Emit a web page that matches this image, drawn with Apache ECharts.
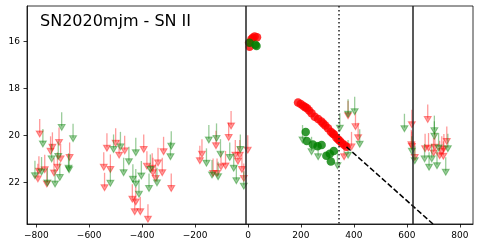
<!DOCTYPE html>
<html>
<head>
<meta charset="utf-8">
<script src="https://cdn.jsdelivr.net/npm/echarts@6/dist/echarts.min.js"></script>
<style>
html,body{margin:0;padding:0;background:#fff;}
#chart{width:480px;height:248px;}
</style>
</head>
<body>
<div id="chart"></div>
<script>
// 观测数据 [天数, 星等]
var rDet = [[4,16.06],[6,16.23],[13,15.91],[18,15.85],[25,15.80],[34,15.83],
	[189,18.60],[199,18.67],[208,18.74],[216,18.80],[223,18.85],[231,18.94],[240,19.06],[252,19.21],
	[265,19.31],[277,19.41],[284,19.50],[292,19.58],[302,19.70],[313,19.85],[320,19.92],[325,19.96],
	[334,20.10],[341,20.18],[347,20.24],[355,20.34],[364,20.41],[372,20.49]];
var gDet = [[6,16.06],[28,16.15],[32,16.20],
	[218,19.86],[222,20.24],[245,20.39],[263,20.46],[278,20.41],[296,20.87],[309,20.78],[313,21.11],[324,20.67]];
// 上限
var rLim = [[-787,19.94],[-714,20.30],[-746,20.68],[-739,20.51],[-708,21.00],[-674,20.94],[-790,21.53],
	[-768,21.46],[-794,21.85],[-760,22.07],[-733,21.60],[-720,21.36],
	[-533,20.55],[-500,20.34],[-487,20.84],[-466,20.66],[-545,21.36],[-520,21.45],[-542,22.23],[-437,22.72],
	[-428,23.25],[-407,23.25],[-378,23.57],[-382,21.31],[-362,21.40],[-359,21.59],[-349,21.83],[-324,21.59],
	[-319,20.70],[-340,21.17],[-290,22.26],[-394,20.60],[-424,22.83],
	[-182,21.08],[-174,20.80],[-121,20.44],[-73,20.09],[-64,19.60],[-132,21.62],[-117,21.62],[-102,21.34],
	[-85,21.30],[-48,20.84],[-38,21.10],[-31,20.84],[-23,21.45],[-16,21.83],[-1,20.63],
	[363,20.91],[378,19.17],[391,20.49],[406,19.63],[416,20.10],
	[617,20.40],[619,19.55],[619,20.47],[630,20.94],[669,20.57],[679,19.33],[682,20.54],[701,20.75],
	[706,20.51],[724,20.87],[732,20.68],[738,20.89],[740,20.58],[751,20.26]];
var gLim = [[-805,21.72],[-780,21.56],[-775,20.37],[-758,22.03],[-742,21.00],[-729,22.07],[-717,20.90],
	[-711,21.79],[-704,19.66],[-678,21.40],[-676,21.46],[-661,20.14],
	[-520,22.04],[-508,20.60],[-482,20.49],[-470,21.59],[-450,21.12],[-435,21.87],[-424,20.74],[-424,22.07],
	[-412,22.50],[-403,21.73],[-374,22.26],[-369,21.45],[-344,22.02],[-293,20.91],[-290,20.46],
	[-157,21.19],[-148,20.20],[-136,21.69],[-119,20.13],[-113,21.76],[-104,20.80],[-69,20.94],[-54,21.40],
	[-44,21.93],[-29,20.60],[-16,22.16],
	[206,20.20],[240,20.70],[265,20.91],[338,21.29],[347,19.70],[378,19.10],[378,20.84],[403,19.00],[422,20.38],
	[591,19.72],[619,20.68],[630,21.08],[667,21.00],[684,21.36],[694,21.00],[704,19.80],[704,20.04],
	[714,21.29],[720,20.54],[747,21.57],[755,20.57]];
// 衰减线
var tailLine = [[372,20.49],[699,23.77]];
// 竖线: 爆发, 峰值(虚), 结束
var vSolid = [-9, 621];
var vDotted = [342];
var xTicks = [-800,-600,-400,-200,0,200,400,600,800];
var yTicks = [16,18,20,22];

var shaft = 'path://M0,0 L1,0 L1,14 L0,14 Z';
var font = 'DejaVu Sans';

var marks = [];
for (var i = 0; i < vSolid.length; i++) {
	marks.push({xAxis: vSolid[i]});
}
for (var i = 0; i < vDotted.length; i++) {
	marks.push({xAxis: vDotted[i], lineStyle: {type: [1.5, 2.5]}});
}

// 上限箭头: 竖线 + 倒三角
function limSeries(data, color) {
	return [{
		type: 'scatter',
		data: data,
		symbol: shaft,
		symbolSize: [1.3, 14],
		symbolOffset: [0, -8],
		itemStyle: {color: color},
		silent: true,
		z: 2
	}, {
		type: 'scatter',
		data: data,
		symbol: 'triangle',
		symbolRotate: 180,
		symbolSize: [7, 6],
		itemStyle: {color: color, borderColor: color, borderWidth: 1},
		silent: true,
		z: 2
	}];
}

var myChart = echarts.init(document.getElementById('chart'));
var series = [].concat(limSeries(rLim, 'rgba(255,0,0,0.5)'), limSeries(gLim, 'rgba(0,128,0,0.5)'));
series.push({
	type: 'scatter', data: rDet, symbol: 'circle', symbolSize: 8.5,
	itemStyle: {color: '#ff0000'}, silent: true, z: 3
}, {
	type: 'scatter', data: gDet, symbol: 'circle', symbolSize: 8.5,
	itemStyle: {color: '#008000'}, silent: true, z: 3
}, {
	type: 'line', data: tailLine, symbol: 'none', silent: true, z: 4,
	lineStyle: {color: '#000', width: 1.5, type: [5.5, 2.4]},
	markLine: {
		silent: true,
		symbol: ['none', 'none'],
		label: {show: false},
		lineStyle: {color: '#222', width: 1.5, type: 'solid'},
		data: marks
	}
});

var option = {
	animation: false,
	title: {
		text: 'SN2020mjm - SN II',
		left: 40,
		top: 14,
		padding: 0,
		textStyle: {fontFamily: font, fontSize: 16, fontWeight: 'normal', color: '#000', lineHeight: 16}
	},
	grid: {left: 27, right: 7, top: 6, bottom: 24, show: true, borderColor: '#000', borderWidth: 0.8},
	xAxis: {
		type: 'value',
		min: -835,
		max: 850,
		splitLine: {show: false},
		axisLine: {onZero: false, lineStyle: {color: '#000', width: 0.8}},
		axisTick: {length: 3.5, lineStyle: {color: '#000', width: 0.8}, customValues: xTicks},
		axisLabel: {
			customValues: xTicks,
			fontFamily: font, fontSize: 9, color: '#000', margin: 7,
			formatter: function(v) { return v < 0 ? '\u2212' + (-v) : '' + v; }
		}
	},
	yAxis: {
		type: 'value',
		inverse: true,
		min: 14.5,
		max: 23.77,
		splitLine: {show: false},
		axisLine: {show: true, onZero: false, lineStyle: {color: '#000', width: 0.8}},
		axisTick: {show: true, length: 3.5, lineStyle: {color: '#000', width: 0.8}, customValues: yTicks},
		axisLabel: {customValues: yTicks, fontFamily: font, fontSize: 9, color: '#000', margin: 7}
	},
	series: series
};
myChart.setOption(option);//渲染
</script>
</body>
</html>
